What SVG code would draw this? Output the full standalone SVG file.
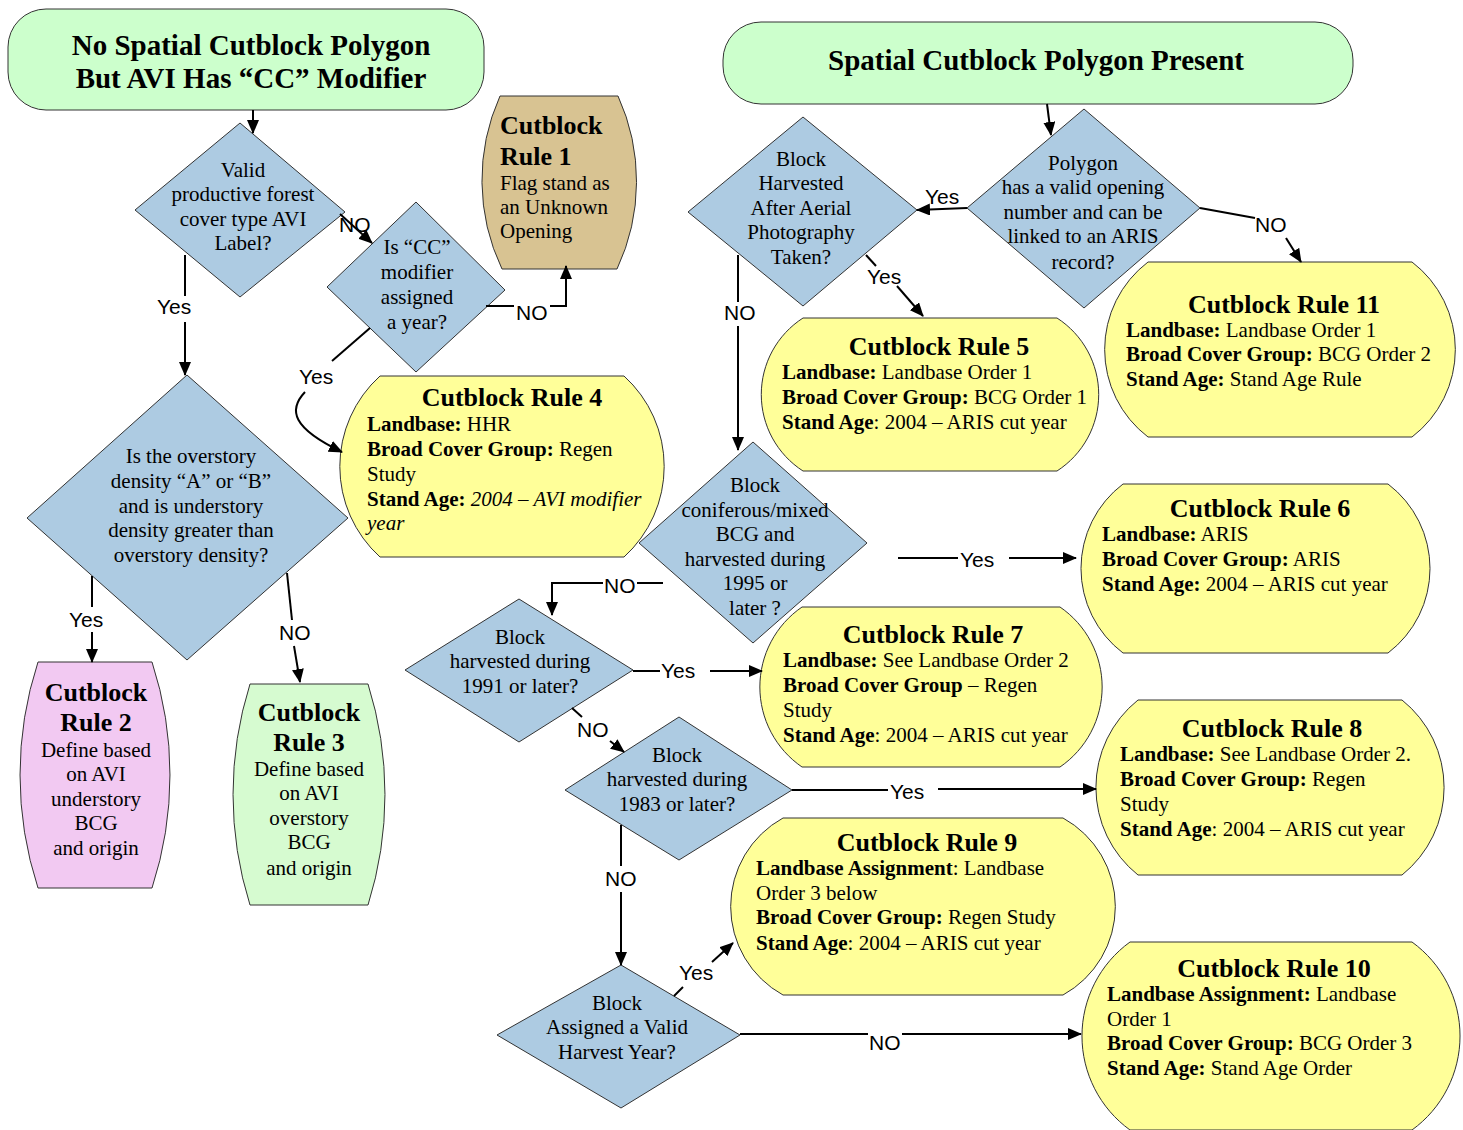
<svg xmlns="http://www.w3.org/2000/svg" width="1463" height="1130" viewBox="0 0 1463 1130">
<style>
.t{font-family:"Liberation Serif","Times New Roman",serif;font-size:21px;fill:#000}
.c{text-anchor:middle}
.b{font-weight:bold}
.i{font-style:italic}
.h{font-size:26px;font-weight:bold}
.ttl{font-size:29px;font-weight:bold;text-anchor:middle}
.lbl{font-family:"Liberation Sans",Arial,sans-serif;font-size:21px;fill:#000}
.dia{fill:#adcbe2;stroke:#333;stroke-width:1}
.yel{fill:#ffff99;stroke:#333;stroke-width:1}
.grn{fill:#ccffcc;stroke:#333;stroke-width:1}
.con{fill:none;stroke:#000;stroke-width:2}
</style>
<defs>
<marker id="ah" markerWidth="14" markerHeight="12" refX="13" refY="6" orient="auto" markerUnits="userSpaceOnUse"><path d="M0,0 L14,6 L0,12 Z" fill="#000"/></marker>
</defs>
<rect width="1463" height="1130" fill="#fff"/>

<g id="title-no-spatial">
<rect class="grn" x="8" y="9" width="476" height="101" rx="38"/>
<text class="t ttl" x="251" y="55">No Spatial Cutblock Polygon</text>
<text class="t ttl" x="251" y="88">But AVI Has “CC” Modifier</text>
</g>
<g id="title-spatial">
<rect class="grn" x="723" y="22" width="630" height="82" rx="38"/>
<text class="t ttl" x="1036" y="70">Spatial Cutblock Polygon Present</text>
</g>

<g id="d-valid-avi">
<polygon class="dia" points="240,123 345,212 240,297 135,210"/>
<text class="t c" x="243"><tspan x="243" y="177">Valid</tspan><tspan x="243" y="201">productive forest</tspan><tspan x="243" y="226">cover type AVI</tspan><tspan x="243" y="250">Label?</tspan></text>
</g>
<g id="d-cc-year">
<polygon class="dia" points="416,202 505,290 416,372 327,287"/>
<text class="t c"><tspan x="417" y="254">Is “CC”</tspan><tspan x="417" y="279">modifier</tspan><tspan x="417" y="304">assigned</tspan><tspan x="417" y="329">a year?</tspan></text>
</g>
<g id="d-density">
<polygon class="dia" points="187,375 348,518 187,660 27,518"/>
<text class="t c"><tspan x="191" y="463">Is the overstory</tspan><tspan x="191" y="488">density “A” or “B”</tspan><tspan x="191" y="513">and is understory</tspan><tspan x="191" y="537">density greater than</tspan><tspan x="191" y="562">overstory density?</tspan></text>
</g>
<g id="d-after-photo">
<polygon class="dia" points="803,117 917,210 803,306 688,212"/>
<text class="t c"><tspan x="801" y="166">Block</tspan><tspan x="801" y="190">Harvested</tspan><tspan x="801" y="215">After Aerial</tspan><tspan x="801" y="239">Photography</tspan><tspan x="801" y="264">Taken?</tspan></text>
</g>
<g id="d-polygon-valid">
<polygon class="dia" points="1084,109 1200,208 1084,308 967,208"/>
<text class="t c"><tspan x="1083" y="170">Polygon</tspan><tspan x="1083" y="194">has a valid opening</tspan><tspan x="1083" y="219">number and can be</tspan><tspan x="1083" y="243">linked to an ARIS</tspan><tspan x="1083" y="269">record?</tspan></text>
</g>
<g id="d-1995">
<polygon class="dia" points="753,442 867,543 753,643 639,543"/>
<text class="t c"><tspan x="755" y="492">Block</tspan><tspan x="755" y="517">coniferous/mixed</tspan><tspan x="755" y="541">BCG and</tspan><tspan x="755" y="566">harvested during</tspan><tspan x="755" y="590">1995 or</tspan><tspan x="755" y="615">later ?</tspan></text>
</g>
<g id="d-1991">
<polygon class="dia" points="519,599 633,670 519,742 405,670"/>
<text class="t c"><tspan x="520" y="644">Block</tspan><tspan x="520" y="668">harvested during</tspan><tspan x="520" y="693">1991 or later?</tspan></text>
</g>
<g id="d-1983">
<polygon class="dia" points="679,717 792,790 679,860 565,790"/>
<text class="t c"><tspan x="677" y="762">Block</tspan><tspan x="677" y="786">harvested during</tspan><tspan x="677" y="811">1983 or later?</tspan></text>
</g>
<g id="d-valid-year">
<polygon class="dia" points="621,965 740,1035 621,1108 497,1035"/>
<text class="t c"><tspan x="617" y="1010">Block</tspan><tspan x="617" y="1034">Assigned a Valid</tspan><tspan x="617" y="1059">Harvest Year?</tspan></text>
</g>

<g id="rule-1">
<path d="M500,96 L618,96 A206,206 0 0 1 617,269 L502,269 A206,206 0 0 1 500,96 Z" fill="#d8c392" stroke="#333"/>
<text class="t h" x="500" y="134">Cutblock</text>
<text class="t h" x="500" y="165">Rule 1</text>
<text class="t"><tspan x="500" y="190">Flag stand as</tspan><tspan x="500" y="214">an Unknown</tspan><tspan x="500" y="238">Opening</tspan></text>
</g>
<g id="rule-2">
<path d="M38,662 L152,662 A364,364 0 0 1 152,888 L38,888 A364,364 0 0 1 38,662 Z" fill="#f2c9f2" stroke="#333"/>
<text class="t h c" x="96" y="701">Cutblock</text>
<text class="t h c" x="96" y="731">Rule 2</text>
<text class="t c"><tspan x="96" y="757">Define based</tspan><tspan x="96" y="781">on AVI</tspan><tspan x="96" y="806">understory</tspan><tspan x="96" y="830">BCG</tspan><tspan x="96" y="855">and origin</tspan></text>
</g>
<g id="rule-3">
<path d="M250,684 L368,684 A368,368 0 0 1 368,905 L250,905 A368,368 0 0 1 250,684 Z" fill="#d6fbd0" stroke="#333"/>
<text class="t h c" x="309" y="721">Cutblock</text>
<text class="t h c" x="309" y="751">Rule 3</text>
<text class="t c"><tspan x="309" y="776">Define based</tspan><tspan x="309" y="800">on AVI</tspan><tspan x="309" y="825">overstory</tspan><tspan x="309" y="849">BCG</tspan><tspan x="309" y="875">and origin</tspan></text>
</g>
<g id="rule-4">
<path class="yel" d="M380,376 L624,376 A122,122 0 0 1 624,557 L380,557 A122,122 0 0 1 380,376 Z"/>
<text class="t h c" x="512" y="406">Cutblock Rule 4</text>
<text class="t" x="367" y="431"><tspan class="b">Landbase:</tspan> HHR</text>
<text class="t" x="367" y="456"><tspan class="b">Broad Cover Group:</tspan> Regen</text>
<text class="t" x="367" y="481">Study</text>
<text class="t" x="367" y="506"><tspan class="b">Stand Age:</tspan> <tspan class="i">2004 – AVI modifier</tspan></text>
<text class="t i" x="367" y="530">year</text>
</g>
<g id="rule-5">
<path class="yel" d="M803,318 L1057,318 A91,91 0 0 1 1057,471 L803,471 A91,91 0 0 1 803,318 Z"/>
<text class="t h c" x="939" y="355">Cutblock Rule 5</text>
<text class="t" x="782" y="379"><tspan class="b">Landbase:</tspan> Landbase Order 1</text>
<text class="t" x="782" y="404"><tspan class="b">Broad Cover Group:</tspan> BCG Order 1</text>
<text class="t" x="782" y="429"><tspan class="b">Stand Age</tspan>: 2004 – ARIS cut year</text>
</g>
<g id="rule-11">
<path class="yel" d="M1148,262 L1412,262 A110,110 0 0 1 1412,437 L1148,437 A110,110 0 0 1 1148,262 Z"/>
<text class="t h c" x="1284" y="313">Cutblock Rule 11</text>
<text class="t" x="1126" y="337"><tspan class="b">Landbase:</tspan> Landbase Order 1</text>
<text class="t" x="1126" y="361"><tspan class="b">Broad Cover Group:</tspan> BCG Order 2</text>
<text class="t" x="1126" y="386"><tspan class="b">Stand Age:</tspan> Stand Age Rule</text>
</g>
<g id="rule-6">
<path class="yel" d="M1123,484 L1388,484 A106,106 0 0 1 1388,653 L1123,653 A106,106 0 0 1 1123,484 Z"/>
<text class="t h c" x="1260" y="517">Cutblock Rule 6</text>
<text class="t" x="1102" y="541"><tspan class="b">Landbase:</tspan> ARIS</text>
<text class="t" x="1102" y="566"><tspan class="b">Broad Cover Group:</tspan> ARIS</text>
<text class="t" x="1102" y="591"><tspan class="b">Stand Age:</tspan> 2004 – ARIS cut year</text>
</g>
<g id="rule-7">
<path class="yel" d="M802,607 L1060,607 A97,97 0 0 1 1060,767 L802,767 A97,97 0 0 1 802,607 Z"/>
<text class="t h c" x="933" y="643">Cutblock Rule 7</text>
<text class="t" x="783" y="667"><tspan class="b">Landbase:</tspan> See Landbase Order 2</text>
<text class="t" x="783" y="692"><tspan class="b">Broad Cover Group</tspan> – Regen</text>
<text class="t" x="783" y="717">Study</text>
<text class="t" x="783" y="742"><tspan class="b">Stand Age</tspan>: 2004 – ARIS cut year</text>
</g>
<g id="rule-8">
<path class="yel" d="M1138,700 L1402,700 A112,112 0 0 1 1402,875 L1138,875 A112,112 0 0 1 1138,700 Z"/>
<text class="t h c" x="1272" y="737">Cutblock Rule 8</text>
<text class="t" x="1120" y="761"><tspan class="b">Landbase:</tspan> See Landbase Order 2.</text>
<text class="t" x="1120" y="786"><tspan class="b">Broad Cover Group:</tspan> Regen</text>
<text class="t" x="1120" y="811">Study</text>
<text class="t" x="1120" y="836"><tspan class="b">Stand Age</tspan>: 2004 – ARIS cut year</text>
</g>
<g id="rule-9">
<path class="yel" d="M783,818 L1063,818 A101,101 0 0 1 1063,995 L783,995 A101,101 0 0 1 783,818 Z"/>
<text class="t h c" x="927" y="851">Cutblock Rule 9</text>
<text class="t" x="756" y="875"><tspan class="b">Landbase Assignment</tspan>: Landbase</text>
<text class="t" x="756" y="900">Order 3 below</text>
<text class="t" x="756" y="924"><tspan class="b">Broad Cover Group:</tspan> Regen Study</text>
<text class="t" x="756" y="950"><tspan class="b">Stand Age</tspan>: 2004 – ARIS cut year</text>
</g>
<g id="rule-10">
<path class="yel" d="M1130,942 L1412,942 A116,116 0 0 1 1412,1130 L1130,1130 A116,116 0 0 1 1130,942 Z"/>
<text class="t h c" x="1274" y="977">Cutblock Rule 10</text>
<text class="t" x="1107" y="1001"><tspan class="b">Landbase Assignment:</tspan> Landbase</text>
<text class="t" x="1107" y="1026">Order 1</text>
<text class="t" x="1107" y="1050"><tspan class="b">Broad Cover Group:</tspan> BCG Order 3</text>
<text class="t" x="1107" y="1075"><tspan class="b">Stand Age:</tspan> Stand Age Order</text>
</g>

<g id="connectors">
<path class="con" d="M253,110 L253,133" marker-end="url(#ah)"/>
<path class="con" d="M185,255 L185,296"/>
<path class="con" d="M185,322 L185,375" marker-end="url(#ah)"/>
<text class="lbl" x="157" y="314">Yes</text>
<path class="con" d="M340,214 L372,243" marker-end="url(#ah)"/>
<text class="lbl" x="339" y="232">NO</text>
<path class="con" d="M486,306 L514,306"/>
<path class="con" d="M550,306 L566,306 L566,266" marker-end="url(#ah)"/>
<text class="lbl" x="516" y="320">NO</text>
<path class="con" d="M370,328 L332,361"/>
<path class="con" d="M305,392 C 288,410 292,428 342,452" marker-end="url(#ah)"/>
<text class="lbl" x="299" y="384">Yes</text>
<path class="con" d="M92,576 L92,607"/>
<path class="con" d="M92,632 L92,662" marker-end="url(#ah)"/>
<text class="lbl" x="69" y="627">Yes</text>
<path class="con" d="M287,573 L292,620"/>
<path class="con" d="M294,646 L300,682" marker-end="url(#ah)"/>
<text class="lbl" x="279" y="640">NO</text>
<path class="con" d="M1047,104 L1051,135" marker-end="url(#ah)"/>
<path class="con" d="M967,208 L917,210" marker-end="url(#ah)"/>
<text class="lbl" x="925" y="204">Yes</text>
<path class="con" d="M1200,208 L1255,218"/>
<path class="con" d="M1286,238 L1301,262" marker-end="url(#ah)"/>
<text class="lbl" x="1255" y="232">NO</text>
<path class="con" d="M866,255 L876,266"/>
<path class="con" d="M897,286 L923,316" marker-end="url(#ah)"/>
<text class="lbl" x="867" y="284">Yes</text>
<path class="con" d="M738,255 L738,302"/>
<path class="con" d="M738,326 L738,450" marker-end="url(#ah)"/>
<text class="lbl" x="724" y="320">NO</text>
<path class="con" d="M898,558 L958,558"/>
<path class="con" d="M1009,558 L1076,558" marker-end="url(#ah)"/>
<text class="lbl" x="960" y="567">Yes</text>
<path class="con" d="M663,583 L637,583"/>
<path class="con" d="M603,583 L552,583 L552,615" marker-end="url(#ah)"/>
<text class="lbl" x="604" y="593">NO</text>
<path class="con" d="M633,671 L660,671"/>
<path class="con" d="M710,671 L762,671" marker-end="url(#ah)"/>
<text class="lbl" x="661" y="678">Yes</text>
<path class="con" d="M572,708 L582,717"/>
<path class="con" d="M610,741 L624,752" marker-end="url(#ah)"/>
<text class="lbl" x="577" y="737">NO</text>
<path class="con" d="M792,790 L888,790"/>
<path class="con" d="M938,789 L1096,789" marker-end="url(#ah)"/>
<text class="lbl" x="890" y="799">Yes</text>
<path class="con" d="M621,825 L621,866"/>
<path class="con" d="M621,892 L621,965" marker-end="url(#ah)"/>
<text class="lbl" x="605" y="886">NO</text>
<path class="con" d="M674,996 L683,987"/>
<path class="con" d="M712,962 L733,943" marker-end="url(#ah)"/>
<text class="lbl" x="679" y="980">Yes</text>
<path class="con" d="M740,1034 L868,1034"/>
<path class="con" d="M902,1034 L1081,1034" marker-end="url(#ah)"/>
<text class="lbl" x="869" y="1050">NO</text>
</g>
</svg>
